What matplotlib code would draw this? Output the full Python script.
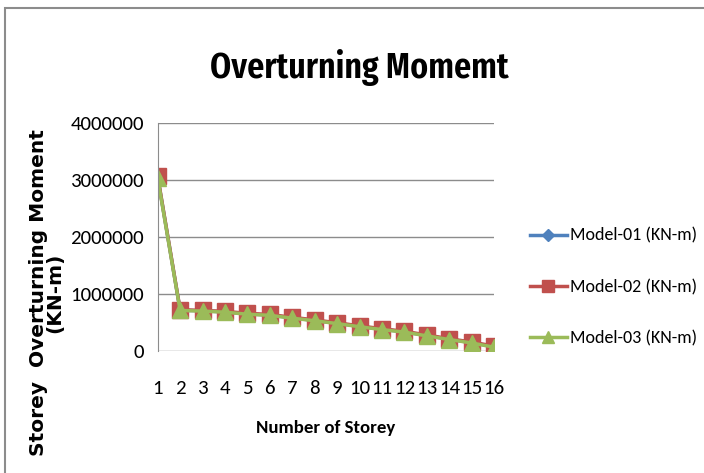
import matplotlib.pyplot as plt
from matplotlib.patches import Rectangle

storey = list(range(1, 17))
model_01 = [3050000, 710000, 700000, 680000, 645000, 625000, 575000, 530000,
            480000, 425000, 375000, 330000, 265000, 200000, 140000, 70000]
model_02 = [3060000, 720000, 705000, 690000, 655000, 635000, 585000, 540000,
            490000, 435000, 385000, 340000, 275000, 210000, 150000, 80000]
model_03 = [3030000, 705000, 695000, 675000, 640000, 620000, 570000, 525000,
            475000, 420000, 370000, 325000, 260000, 195000, 135000, 60000]
labels = ["Model-01 (KN-m)", "Model-02 (KN-m)", "Model-03 (KN-m)"]
yticks = [0, 1000000, 2000000, 3000000, 4000000]

BODY = ["Carlito", "DejaVu Sans"]
TITLE = ["Fira Sans Extra Condensed", "Carlito", "DejaVu Sans"]

fig = plt.figure(figsize=(7.04, 4.73), dpi=100)
# chart border (right and bottom edges run off the picture)
fig.patches.append(Rectangle((5 / 704, -0.1), 1.1, 1.1 - 8 / 473,
                             transform=fig.transFigure, fill=False,
                             edgecolor="#8c8c8c", linewidth=1.5))
ax = fig.add_axes([0.224, 0.2586, 0.478, 0.482])

ax.plot(storey, model_01, color="#4F81BD", lw=2.5, marker="D", ms=8, label=labels[0])
ax.plot(storey, model_02, color="#C0504D", lw=2.5, marker="s", ms=11, label=labels[1])
ax.plot(storey, model_03, color="#9BBB59", lw=2.5, marker="^", ms=12, label=labels[2])

ax.set_xlim(1, 16)
ax.set_ylim(0, 4000000)
ax.set_yticks(yticks)
ax.set_yticklabels([str(v) for v in yticks], family=BODY, fontsize=15)
ax.set_xticks(storey)
ax.set_xticklabels([str(s) for s in storey], family=BODY, fontsize=15)
ax.tick_params(axis="y", length=0, pad=10)
ax.tick_params(axis="x", length=0, pad=21)
ax.grid(axis="y", color="#8c8c8c", lw=1)
ax.set_axisbelow(True)
for s in ["top", "right", "bottom"]:
    ax.spines[s].set_visible(False)
ax.spines["left"].set_color("#8c8c8c")

fig.text(0.510, 1 - 78 / 473, "Overturning Momemt", ha="center", va="baseline",
         family=TITLE, fontweight=600, fontsize=26.5)
fig.text(0.463, 0.095, "Number of Storey", ha="center", va="center",
         family=BODY, fontweight="bold", fontsize=13.5)
fig.text(0.066, 0.382, "Storey  Overturning Moment\n(KN-m)", ha="center",
         va="center", rotation=90, multialignment="center",
         family="DejaVu Sans", fontweight="bold", fontsize=14.5, linespacing=0.85)

fig.legend(loc="center left", bbox_to_anchor=(0.7295, 0.393), frameon=False,
           prop={"family": BODY, "size": 13}, labelspacing=1.95,
           handlelength=2.05, handletextpad=0.15, markerscale=0.75)

fig.savefig("out.png", dpi=100)
